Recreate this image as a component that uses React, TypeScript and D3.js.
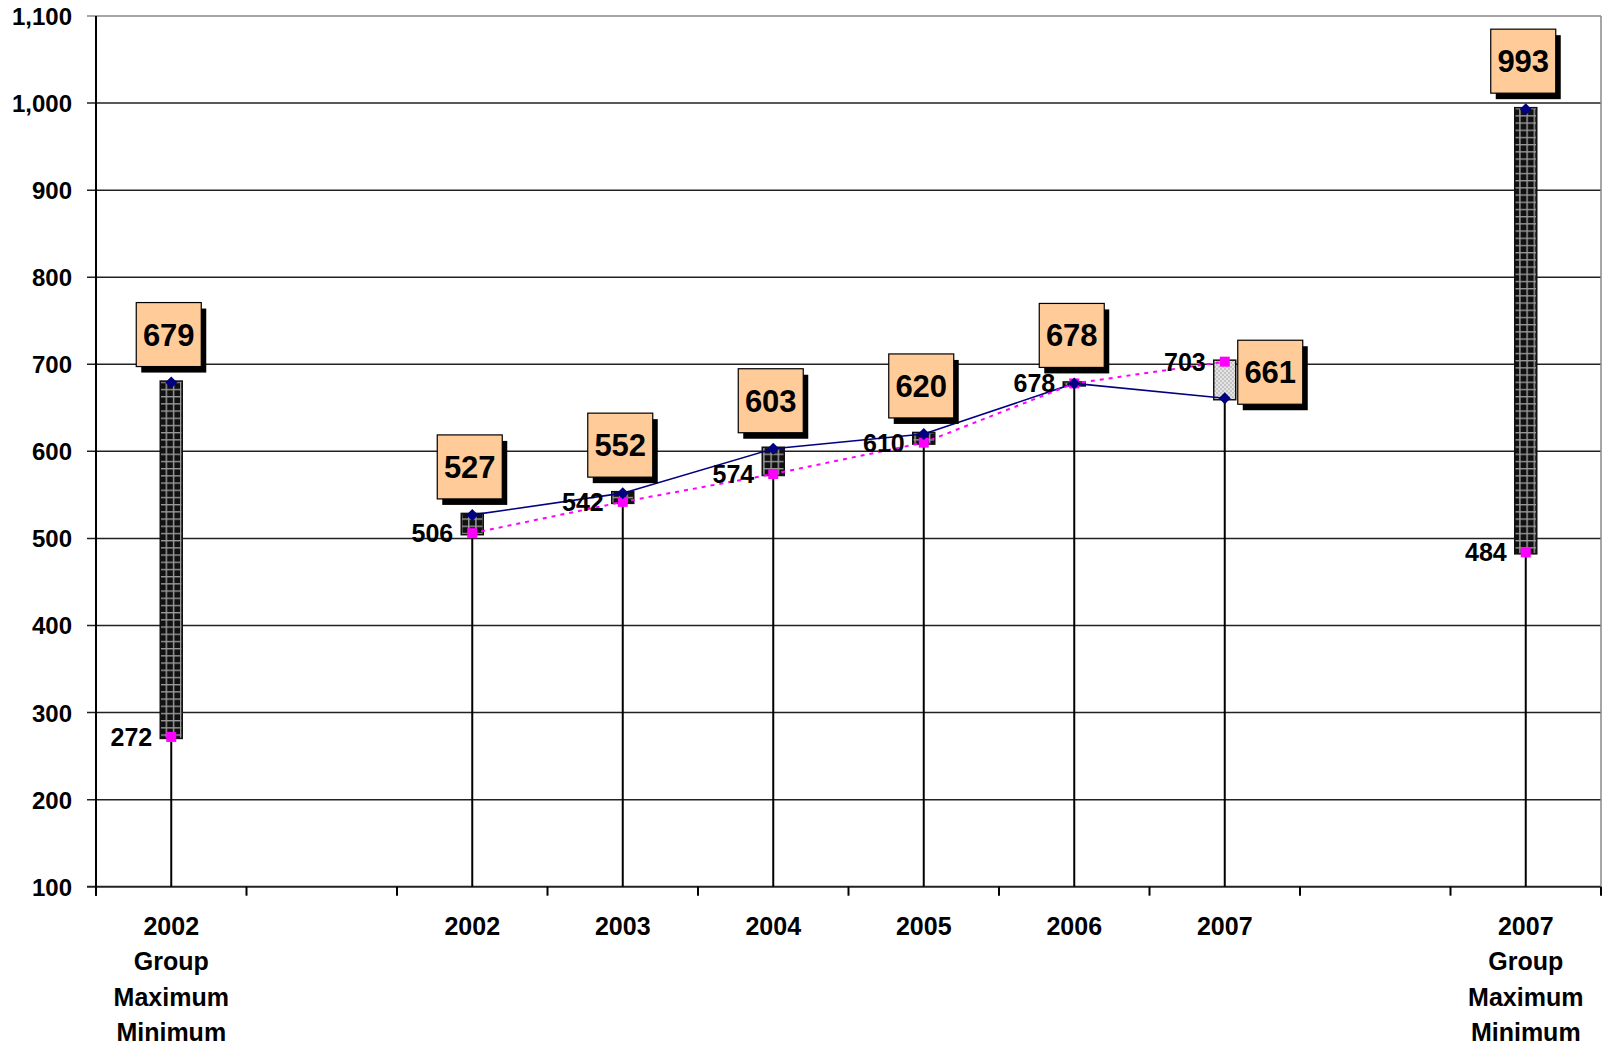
import React from 'react';
import * as d3 from 'd3';

// category slots along the x axis (blank slots are spacers)
const categories = [
  '2002|Group|Maximum|Minimum', '', '2002', '2003', '2004', '2005', '2006', '2007', '', '2007|Group|Maximum|Minimum'
];
// navy diamonds (boxed labels)
const highValues = [679, null, 527, 552, 603, 620, 678, 661, null, 993];
// magenta squares (plain labels)
const lowValues = [272, null, 506, 542, 574, 610, 678, 703, null, 484];
// where the boxed label sits
const boxSide = ['top', '', 'top', 'top', 'top', 'top', 'top', 'right', '', 'top'];

const yTicks = [100, 200, 300, 400, 500, 600, 700, 800, 900, 1000, 1100];

const W = 1603;
const H = 1047;
const margin = { left: 96, top: 16, right: 2, bottom: 160 };
const font = '"Liberation Sans", Arial, sans-serif';

const App = () => {
  const x = d3.scaleBand<number>()
    .domain(categories.map((_, i) => i))
    .range([margin.left, W - margin.right])
    .padding(0);
  const y = d3.scaleLinear()
    .domain([100, 1100])
    .range([H - margin.bottom - 0.3, margin.top]);

  const cx = (i: number) => (x(i) as number) + x.bandwidth() / 2;
  const isYear = (i: number) => categories[i] !== '' && categories[i].indexOf('Group') < 0;

  const idx = categories.map((_, i) => i);

  const highLine = d3.line<number>()
    .defined(i => isYear(i))
    .x(i => cx(i))
    .y(i => y(highValues[i] as number));
  const lowLine = d3.line<number>()
    .defined(i => isYear(i))
    .x(i => cx(i))
    .y(i => y(lowValues[i] as number));

  const barW = 22;
  const boxW = 65;
  const boxH = 64;
  const axisY = y(100);
  const tickEdges = d3.range(categories.length + 1).map(i => margin.left + i * x.bandwidth());

  return (
    <svg width={W} height={H} style={{ position: 'absolute', left: 0, top: 0, background: '#fff' }}
      fontFamily={font} fontWeight="bold">
      <defs>
        <pattern id="dark" width="7.2" height="7.2" patternUnits="userSpaceOnUse">
          <rect width="7.2" height="7.2" fill="#111" />
          <path d="M0,0.7H7.2M0.7,0V7.2" stroke="#9a9a9a" strokeWidth="1.5" />
        </pattern>
        <pattern id="light" width="4" height="4" patternUnits="userSpaceOnUse">
          <rect width="4" height="4" fill="#e4e4e4" />
          <rect width="2" height="2" fill="#c4c4c4" />
          <rect x="2" y="2" width="2" height="2" fill="#c4c4c4" />
        </pattern>
      </defs>

      {/* grid */}
      {yTicks.map(t => (
        <g key={t}>
          <line x1={margin.left - 9} x2={W - margin.right} y1={y(t)} y2={y(t)}
            stroke={t === 1100 ? '#888' : '#222'} strokeWidth={t === 100 ? 2 : 1.5} />
          <text x={72} y={y(t) + 9} textAnchor="end" fontSize={24}>{d3.format(',')(t)}</text>
        </g>
      ))}
      <line x1={W - margin.right} x2={W - margin.right} y1={margin.top} y2={axisY} stroke="#888" strokeWidth={1.5} />
      <line x1={margin.left} x2={margin.left} y1={margin.top} y2={axisY + 9} stroke="#000" strokeWidth={2} />
      {tickEdges.map((tx, i) => (
        <line key={i} x1={tx} x2={tx} y1={axisY} y2={axisY + 9} stroke="#000" strokeWidth={2} />
      ))}

      {/* category labels */}
      {categories.map((c, i) => (
        <text key={i} x={cx(i)} y={axisY + 48} textAnchor="middle" fontSize={25}>
          {c.split('|').map((s, k) => (
            <tspan key={k} x={cx(i)} dy={k === 0 ? 0 : 35.5}>{s}</tspan>
          ))}
        </text>
      ))}

      {/* hi-lo drop lines */}
      {idx.filter(i => highValues[i] != null).map(i => (
        <line key={i} x1={cx(i)} x2={cx(i)} y1={axisY}
          y2={y(Math.min(highValues[i] as number, lowValues[i] as number))}
          stroke="#000" strokeWidth={2} />
      ))}

      {/* up/down bars */}
      {idx.filter(i => highValues[i] != null).map(i => {
        const h = highValues[i] as number;
        const l = lowValues[i] as number;
        const top = y(Math.max(h, l)) - 1.5;
        const bot = y(Math.min(h, l)) + 1.5;
        return (
          <rect key={i} x={cx(i) - barW / 2} y={top} width={barW} height={Math.max(bot - top, 4)}
            fill={h >= l ? 'url(#dark)' : 'url(#light)'} stroke="#111" strokeWidth={1.5} />
        );
      })}

      {/* trend lines */}
      <path d={highLine(idx) || ''} fill="none" stroke="#000080" strokeWidth={1.6} />
      <path d={lowLine(idx) || ''} fill="none" stroke="#ff00ff" strokeWidth={2} strokeDasharray="4,5" />

      {/* markers */}
      {idx.filter(i => lowValues[i] != null).map(i => (
        <rect key={'l' + i} x={cx(i) - 5} y={y(lowValues[i] as number) - 5} width={10} height={10} fill="#ff00ff" />
      ))}
      {idx.filter(i => highValues[i] != null).map(i => (
        <path key={'h' + i} transform={`translate(${cx(i)},${y(highValues[i] as number)})`}
          d="M0,-6L6,0L0,6L-6,0Z" fill="#000080" />
      ))}

      {/* plain labels for low values */}
      {idx.filter(i => lowValues[i] != null).map(i => (
        <text key={'lt' + i} x={cx(i) - 19} y={y(lowValues[i] as number) + 9} textAnchor="end" fontSize={25}>
          {lowValues[i]}
        </text>
      ))}

      {/* boxed labels for high values */}
      {idx.filter(i => highValues[i] != null).map(i => {
        const py = y(highValues[i] as number);
        let bx: number;
        let by: number;
        if (boxSide[i] === 'right') {
          bx = cx(i) + 13;
          by = py - 58;
        } else {
          bx = cx(i) - 2.5 - boxW / 2;
          by = py - 16 - boxH;
        }
        return (
          <g key={'b' + i}>
            <rect x={bx + 5} y={by + 6} width={boxW} height={boxH} fill="#000" />
            <rect x={bx} y={by} width={boxW} height={boxH} fill="#ffcc99" stroke="#000" strokeWidth={1.2} />
            <text x={bx + boxW / 2} y={by + boxH / 2 + 11} textAnchor="middle" fontSize={31}>
              {highValues[i]}
            </text>
          </g>
        );
      })}
    </svg>
  );
};

export default App;
